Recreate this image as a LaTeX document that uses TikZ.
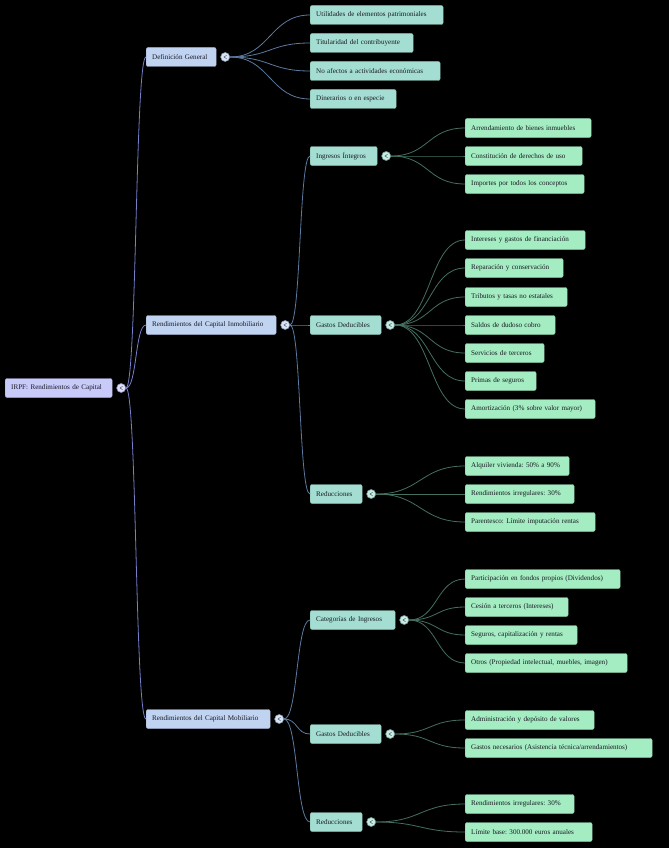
\documentclass[tikz,border=0pt]{standalone}
\usepackage{fontspec}
\setmainfont{Liberation Serif}
\usepackage{tikz}
\usetikzlibrary{positioning}

\definecolor{rootfill}{RGB}{200,202,250}
\definecolor{onefill}{RGB}{192,212,242}
\definecolor{twofill}{RGB}{164,222,210}
\definecolor{threefill}{RGB}{164,236,194}
\definecolor{lkrootcol}{RGB}{118,128,200}
\definecolor{lkonecol}{RGB}{92,122,160}
\definecolor{lktwocol}{RGB}{68,112,96}
\definecolor{txtcol}{RGB}{25,25,35}
\frenchspacing

\begin{document}
\begin{tikzpicture}[x=1pt, y=-1pt,
        box/.style={rounded corners=2pt, minimum height=19pt, inner xsep=6pt, inner ysep=2pt, align=left, anchor=west, font=\fontsize{7.1}{8}\selectfont, text=txtcol, line width=0.4pt},
        rootbox/.style={box, fill=rootfill, draw=rootfill!85!black},
        lvlone/.style={box, fill=onefill, draw=onefill!85!black},
        lvltwo/.style={box, fill=twofill, draw=twofill!85!black},
        lvlthree/.style={box, fill=threefill, draw=threefill!85!black},
        dot/.style={circle, minimum size=9pt, inner sep=0pt, line width=0.6pt, fill=#1!60!white, draw=#1!70!black,
            path picture={\draw[line width=0.5pt, #1!40!black] ([shift={(1.3,-1.7)}]path picture bounding box.center) -- ([shift={(-1.2,0)}]path picture bounding box.center) -- ([shift={(1.3,1.7)}]path picture bounding box.center);}},
        lkroot/.style={draw=lkrootcol, line width=0.8pt},
        lkone/.style={draw=lkonecol, line width=0.8pt},
        lktwo/.style={draw=lktwocol, line width=0.8pt}
    ]
        \fill[black] (0,0) rectangle (669,848);

        % root and first level
        \node[rootbox, text width=95pt] (root) at (5,388) {IRPF: Rendimientos de Capital};
        \node[dot=rootfill, right=4pt of root] (rootc) {};
        \node[lvlone, text width=58pt] (defgen) at (146,57) {Definición General};
        \node[lvlone, text width=118pt] (inmob) at (146,325) {Rendimientos del Capital Inmobiliario};
        \node[lvlone, text width=112pt] (mobil) at (146,719) {Rendimientos del Capital Mobiliario};
        \node[dot=onefill, right=4pt of defgen] (defgenc) {};
        \node[dot=onefill, right=4pt of inmob] (inmobc) {};
        \node[dot=onefill, right=4pt of mobil] (mobilc) {};

        % Definicion General
        \node[lvltwo, text width=121pt] (util) at (310,15) {Utilidades de elementos patrimoniales};
        \node[lvltwo, text width=91pt] (titul) at (310,43) {Titularidad del contribuyente};
        \node[lvltwo, text width=118pt] (noafec) at (310,71) {No afectos a actividades económicas};
        \node[lvltwo, text width=74pt] (diner) at (310,99) {Dinerarios o en especie};

        % Capital Inmobiliario
        \node[lvltwo, text width=55pt] (ingint) at (310,156) {Ingresos Íntegros};
        \node[lvltwo, text width=59pt] (gastin) at (310,325) {Gastos Deducibles};
        \node[lvltwo, text width=40pt] (reduin) at (310,494) {Reducciones};
        \node[dot=twofill, right=4pt of ingint] (ingintc) {};
        \node[dot=twofill, right=4pt of gastin] (gastinc) {};
        \node[dot=twofill, right=4pt of reduin] (reduinc) {};

        \node[lvlthree, text width=114pt] (arrend) at (465,128) {Arrendamiento de bienes inmuebles};
        \node[lvlthree, text width=105pt] (constit) at (465,156) {Constitución de derechos de uso};
        \node[lvlthree, text width=107pt] (import) at (465,184) {Importes por todos los conceptos};

        \node[lvlthree, text width=108pt] (inter) at (465,240) {Intereses y gastos de financiación};
        \node[lvlthree, text width=86pt] (repar) at (465,268) {Reparación y conservación};
        \node[lvlthree, text width=90pt] (tribut) at (465,297) {Tributos y tasas no estatales};
        \node[lvlthree, text width=78pt] (saldos) at (465,325) {Saldos de dudoso cobro};
        \node[lvlthree, text width=67pt] (servic) at (465,353) {Servicios de terceros};
        \node[lvlthree, text width=59pt] (primas) at (465,381) {Primas de seguros};
        \node[lvlthree, text width=118pt] (amort) at (465,409) {Amortización (3\% sobre valor mayor)};

        \node[lvlthree, text width=92pt] (alquil) at (465,466) {Alquiler vivienda: 50\% a 90\%};
        \node[lvlthree, text width=97pt] (irregin) at (465,494) {Rendimientos irregulares: 30\%};
        \node[lvlthree, text width=118pt] (parent) at (465,522) {Parentesco: Límite imputación rentas};

        % Capital Mobiliario
        \node[lvltwo, text width=73pt] (catingr) at (310,620) {Categorías de Ingresos};
        \node[lvltwo, text width=59pt] (gastmo) at (310,734) {Gastos Deducibles};
        \node[lvltwo, text width=40pt] (redumo) at (310,822) {Reducciones};
        \node[dot=twofill, right=4pt of catingr] (catingrc) {};
        \node[dot=twofill, right=4pt of gastmo] (gastmoc) {};
        \node[dot=twofill, right=4pt of redumo] (redumoc) {};

        \node[lvlthree, text width=143pt] (partic) at (465,579) {Participación en fondos propios (Dividendos)};
        \node[lvlthree, text width=91pt] (cesion) at (465,607) {Cesión a terceros (Intereses)};
        \node[lvlthree, text width=100pt] (seguro) at (465,635) {Seguros, capitalización y rentas};
        \node[lvlthree, text width=150pt] (otros) at (465,663) {Otros (Propiedad intelectual, muebles, imagen)};

        \node[lvlthree, text width=117pt] (admin) at (465,720) {Administración y depósito de valores};
        \node[lvlthree, text width=175pt] (gastnec) at (465,748) {Gastos necesarios (Asistencia técnica/arrendamientos)};

        \node[lvlthree, text width=97pt] (irregmo) at (465,804) {Rendimientos irregulares: 30\%};
        \node[lvlthree, text width=115pt] (limite) at (465,832) {Límite base: 300.000 euros anuales};

        % links
        \foreach \c in {defgen,inmob,mobil}
            \draw[lkroot] (rootc.east) .. controls +(11,0) and +(-11,0) .. (\c.west);
        \foreach \c in {util,titul,noafec,diner}
            \draw[lkone] (defgenc.east) .. controls +(40,0) and +(-40,0) .. (\c.west);
        \foreach \c in {ingint,gastin,reduin}
            \draw[lkone] (inmobc.east) .. controls +(11,0) and +(-11,0) .. (\c.west);
        \foreach \c in {catingr,gastmo,redumo}
            \draw[lkone] (mobilc.east) .. controls +(14,0) and +(-14,0) .. (\c.west);
        \foreach \c in {arrend,constit,import}
            \draw[lktwo] (ingintc.east) .. controls +(38,0) and +(-38,0) .. (\c.west);
        \foreach \c in {inter,repar,tribut,saldos,servic,primas,amort}
            \draw[lktwo] (gastinc.east) .. controls +(36,0) and +(-36,0) .. (\c.west);
        \foreach \c in {alquil,irregin,parent}
            \draw[lktwo] (reduinc.east) .. controls +(45,0) and +(-45,0) .. (\c.west);
        \foreach \c in {partic,cesion,seguro,otros}
            \draw[lktwo] (catingrc.east) .. controls +(29,0) and +(-29,0) .. (\c.west);
        \foreach \c in {admin,gastnec}
            \draw[lktwo] (gastmoc.east) .. controls +(36,0) and +(-36,0) .. (\c.west);
        \foreach \c in {irregmo,limite}
            \draw[lktwo] (redumoc.east) .. controls +(45,0) and +(-45,0) .. (\c.west);
    \end{tikzpicture}
\end{document}
